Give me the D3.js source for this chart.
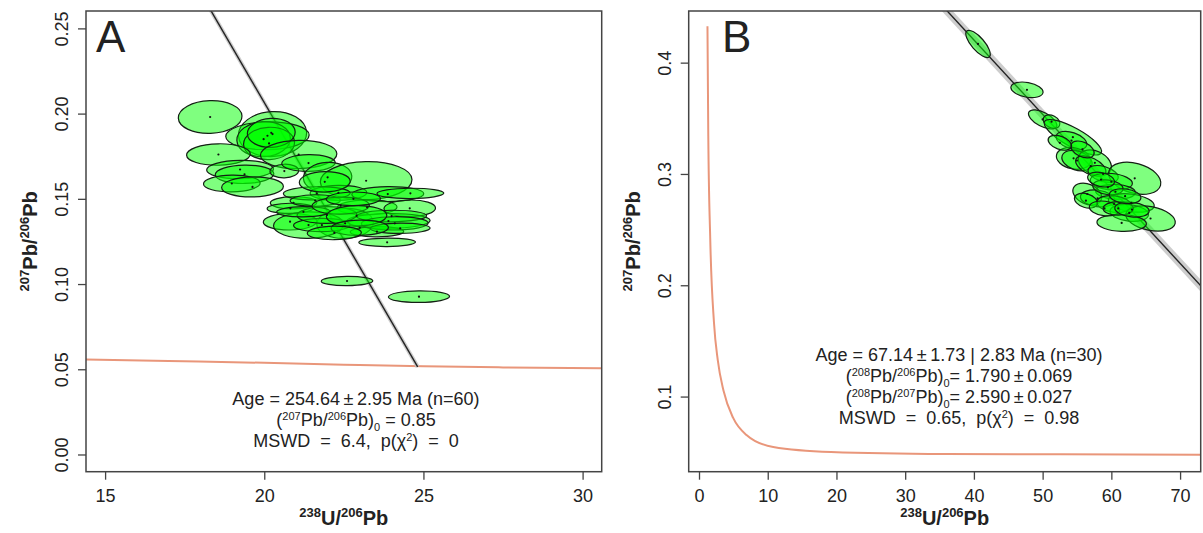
<!DOCTYPE html>
<html>
<head>
<meta charset="utf-8">
<script src="https://cdn.jsdelivr.net/npm/d3@7"></script>
<style>
  body { margin: 0; background: #fff; }
  svg text { font-family: "Liberation Sans", Arial, Helvetica, sans-serif; fill: #222; white-space: pre; }
</style>
</head>
<body>
<div id="chart"></div>
<script>
// ---------- panel A data ----------
const aTicksX = [15, 20, 25, 30];
const aTicksY = [0.00, 0.05, 0.10, 0.15, 0.20, 0.25];
// ellipse centres and half-widths (data units)
const aX  = [18.30, 20.26, 20.10, 19.98, 20.15, 20.22, 21.08, 18.56, 19.24, 19.38, 18.98, 19.63, 20.63, 21.39, 21.99,
             23.20, 22.33, 23.88, 24.59, 20.92, 20.82, 23.23, 24.57, 22.54, 23.90, 23.54, 23.86, 22.60, 24.86, 20.81,
             21.39, 21.81, 21.97, 21.23, 21.65, 21.60, 24.00, 24.10, 24.27, 22.40, 22.90, 23.00, 22.20, 22.80, 21.90];
const aY  = [0.1980, 0.1880, 0.1870, 0.1850, 0.1825, 0.1887, 0.1760, 0.1760, 0.1672, 0.1644, 0.1590, 0.1570, 0.1663, 0.1710, 0.1626,
             0.1606, 0.1535, 0.1528, 0.1532, 0.1477, 0.1444, 0.1450, 0.1444, 0.1356, 0.1370, 0.1307, 0.1245, 0.1018, 0.0926, 0.1366,
             0.1346, 0.1346, 0.1405, 0.1424, 0.1532, 0.1490, 0.1399, 0.1356, 0.1327, 0.1460, 0.1400, 0.1330, 0.1300, 0.1500, 0.1600];
const aEx = [1.00, 1.07, 1.31, 0.84, 0.80, 0.75, 1.20, 1.00, 1.05, 0.92, 0.89, 0.97, 0.45, 0.84, 0.76,
             1.44, 0.89, 1.13, 1.05, 0.73, 0.73, 0.94, 0.81, 0.89, 1.31, 0.84, 0.89, 0.81, 0.96, 0.84,
             1.10, 0.89, 0.94, 0.84, 1.05, 0.79, 1.10, 1.05, 0.94, 0.90, 0.95, 0.90, 0.85, 0.85, 0.80];
const aEy = [0.0096, 0.0132, 0.0082, 0.0103, 0.0095, 0.0085, 0.0083, 0.0063, 0.0054, 0.0054, 0.0049, 0.0059, 0.0040, 0.0049, 0.0088,
             0.0112, 0.0044, 0.0044, 0.0030, 0.0036, 0.0030, 0.0044, 0.0049, 0.0088, 0.0044, 0.0030, 0.0025, 0.0027, 0.0034, 0.0049,
             0.0078, 0.0039, 0.0049, 0.0030, 0.0039, 0.0034, 0.0034, 0.0039, 0.0030, 0.0050, 0.0060, 0.0045, 0.0040, 0.0040, 0.0060];
const aRho = aX.map(() => 0.05);
// concordia and isochron
const aConcX = [14.4, 17.0, 20.0, 22.5, 25.0, 27.5, 30.6];
const aConcY = [0.0557, 0.0548, 0.0538, 0.0527, 0.0517, 0.0511, 0.0506];
const aLineX = [0, 24.82];
const aLineY = [0.85, 0.0514];

// ---------- panel B data ----------
const bTicksX = [0, 10, 20, 30, 40, 50, 60, 70];
const bTicksY = [0.1, 0.2, 0.3, 0.4];
const bX  = [40.6, 47.72, 50.0, 51.3, 54.4, 54.2, 54.5, 55.0, 57.6, 57.0, 58.8, 63.4, 60.0, 60.6, 56.5,
             58.0, 62.9, 60.4, 62.6, 65.7, 61.5, 56.3, 59.0, 61.0, 63.0, 59.5, 62.0, 55.8, 52.5, 58.5];
const bY  = [0.4168, 0.3756, 0.3490, 0.3470, 0.3330, 0.3300, 0.3140, 0.3120, 0.3100, 0.3070, 0.3000, 0.2961, 0.2930, 0.2840, 0.2820,
             0.2780, 0.2740, 0.2730, 0.2650, 0.2600, 0.2560, 0.2760, 0.2690, 0.2690, 0.2680, 0.2880, 0.2800, 0.3220, 0.3280, 0.2950];
const bEx = [1.78, 2.34, 2.06, 1.22, 4.18, 2.23, 2.50, 2.20, 2.40, 2.20, 2.20, 3.80, 3.06, 2.90, 2.10,
             2.50, 3.34, 2.50, 2.80, 3.60, 3.60, 1.67, 2.20, 2.20, 2.50, 2.20, 2.30, 1.70, 1.70, 1.95];
const bEy = [0.0122, 0.0070, 0.0086, 0.0061, 0.0159, 0.0083, 0.0098, 0.0092, 0.0116, 0.0092, 0.0076, 0.0144, 0.0076, 0.0067, 0.0098,
             0.0076, 0.0083, 0.0076, 0.0076, 0.0113, 0.0076, 0.0067, 0.0067, 0.0061, 0.0067, 0.0067, 0.0067, 0.0076, 0.0067, 0.0067];
const bRho = [-0.75, -0.3, -0.6, -0.3, -0.8, -0.4, -0.2, -0.3, -0.3, -0.5, -0.4, -0.3, -0.2, -0.1, -0.3,
              -0.2, -0.3, -0.2, -0.2, -0.3, -0.1, -0.3, -0.2, 0, -0.2, -0.2, -0.2, -0.4, -0.4, -0.3];
const bConcX = [1.23, 1.35, 1.63, 2.18, 2.73, 3.57, 4.97, 6.91, 10.8, 19.2, 35.9, 52.6, 73.0];
const bConcY = [0.4327, 0.334, 0.2427, 0.1663, 0.1327, 0.1052, 0.0808, 0.0655, 0.0547, 0.0502, 0.0484, 0.0481, 0.0478];
const bLineX = [30, 80];
const bLineY = [0.4873, 0.1528];

// annotation text: [text, kind] kind: n normal, u superscript, d subscript
const aNotes = [
  [["Age = 254.64\u2009\u00b1\u20092.95 Ma (n=60)", "n"]],
  [["(", "n"], ["207", "u"], ["Pb/", "n"], ["206", "u"], ["Pb)", "n"], ["0", "d"], [" = 0.85", "n"]],
  [["MSWD  =  6.4,  p(\u03c7", "n"], ["2", "u"], [")  =  0", "n"]]
];
const bNotes = [
  [["Age = 67.14\u2009\u00b1\u20091.73 | 2.83 Ma (n=30)", "n"]],
  [["(", "n"], ["208", "u"], ["Pb/", "n"], ["206", "u"], ["Pb)", "n"], ["0", "d"], ["= 1.790\u2009\u00b1\u20090.069", "n"]],
  [["(", "n"], ["208", "u"], ["Pb/", "n"], ["207", "u"], ["Pb)", "n"], ["0", "d"], ["= 2.590\u2009\u00b1\u20090.027", "n"]],
  [["MSWD  =  0.65,  p(\u03c7", "n"], ["2", "u"], [")  =  0.98", "n"]]
];

const W = 1203, H = 533;
const svg = d3.select("#chart").append("svg").attr("width", W).attr("height", H);

function richText(sel, parts, supSize, dyUp, dyDown) {
  let off = 0;
  parts.forEach(p => {
    let target = p[1] === "u" ? -dyUp : p[1] === "d" ? dyDown : 0;
    let t = sel.append("tspan").text(p[0]).attr("dy", target - off);
    if (p[1] !== "n") t.style("font-size", supSize + "px");
    off = target;
  });
}

function ellipseGeom(ex, ey, rho, kx, ky) {
  const sx = ex * kx, sy = ey * ky;
  const r = -rho; // screen y is flipped
  const a = sx * sx, c = sy * sy, b = r * sx * sy;
  const m = (a + c) / 2, d = Math.sqrt(((a - c) / 2) ** 2 + b * b);
  return {
    rx: Math.sqrt(m + d),
    ry: Math.sqrt(Math.max(m - d, 0)),
    ang: 0.5 * Math.atan2(2 * b, a - c) * 180 / Math.PI
  };
}

function drawPanel(cfg) {
  let g = svg.append("g");
  let x = d3.scaleLinear().domain(cfg.xDom).range([cfg.left, cfg.right]);
  let y = d3.scaleLinear().domain(cfg.yDom).range([cfg.bottom, cfg.top]);
  let kx = Math.abs(x(1) - x(0)), ky = Math.abs(y(1) - y(0));

  svg.append("clipPath").attr("id", "clip" + cfg.id)
    .append("rect")
    .attr("x", cfg.left).attr("y", cfg.top)
    .attr("width", cfg.right - cfg.left).attr("height", cfg.bottom - cfg.top);

  let plot = g.append("g").attr("clip-path", "url(#clip" + cfg.id + ")");

  // concordia
  plot.append("path")
    .datum(d3.zip(cfg.concX, cfg.concY))
    .attr("d", d3.line().x(d => x(d[0])).y(d => y(d[1])).curve(d3.curveMonotoneX))
    .attr("fill", "none")
    .attr("stroke", "#e9967a")
    .attr("stroke-width", 2);

  // isochron with envelope
  let iso = d3.zip(cfg.lineX, cfg.lineY);
  let lineGen = d3.line().x(d => x(d[0])).y(d => y(d[1]));
  plot.append("path").datum(iso).attr("d", lineGen)
    .attr("stroke", "#c4c4c4").attr("stroke-width", cfg.band).attr("opacity", 0.85).attr("fill", "none");
  plot.append("path").datum(iso).attr("d", lineGen)
    .attr("stroke", "#222").attr("stroke-width", 1.4).attr("fill", "none");

  // error ellipses
  let ell = d3.range(cfg.ex.length).map(i => {
    let e = ellipseGeom(cfg.ex[i], cfg.ey[i], cfg.rho[i], kx, ky);
    return {cx: x(cfg.px[i]), cy: y(cfg.py[i]), rx: e.rx, ry: e.ry, ang: e.ang};
  });
  plot.selectAll(".ell").data(ell).enter()
    .append("ellipse")
    .attr("class", "ell")
    .attr("transform", d => "translate(" + d.cx + "," + d.cy + ") rotate(" + d.ang + ")")
    .attr("rx", d => d.rx)
    .attr("ry", d => d.ry)
    .attr("fill", "rgba(0,255,0,0.5)")
    .attr("stroke", "#142014")
    .attr("stroke-width", 1.2);
  plot.selectAll(".dot").data(ell).enter()
    .append("circle")
    .attr("cx", d => d.cx).attr("cy", d => d.cy).attr("r", 1.1)
    .attr("fill", "#111");

  // box
  g.append("rect")
    .attr("x", cfg.left).attr("y", cfg.top)
    .attr("width", cfg.right - cfg.left).attr("height", cfg.bottom - cfg.top)
    .attr("fill", "none").attr("stroke", "#444").attr("stroke-width", 1.5);

  // x axis
  let xa = g.append("g").attr("transform", "translate(0," + cfg.bottom + ")")
    .call(d3.axisBottom(x).tickValues(cfg.xTicks).tickSize(8).tickPadding(10).tickSizeOuter(0));
  xa.select(".domain").remove();
  xa.selectAll("line").attr("stroke", "#444").attr("stroke-width", 1.3);
  xa.selectAll("text").style("font-size", "18px").attr("fill", "#222")
    .style("font-family", "'Liberation Sans', Arial, sans-serif");

  // y axis, labels rotated as in R
  let ya = g.append("g").attr("transform", "translate(" + cfg.left + ",0)")
    .call(d3.axisLeft(y).tickValues(cfg.yTicks).tickSize(8).tickFormat(d3.format(cfg.yFmt)).tickSizeOuter(0));
  ya.select(".domain").remove();
  ya.selectAll("line").attr("stroke", "#444").attr("stroke-width", 1.3);
  ya.selectAll("text")
    .attr("x", null).attr("dy", null)
    .attr("transform", "translate(-18,0) rotate(-90)")
    .attr("text-anchor", "middle")
    .style("font-size", "18px").attr("fill", "#222")
    .style("font-family", "'Liberation Sans', Arial, sans-serif");

  // axis titles
  let xt = g.append("text")
    .attr("x", (cfg.left + cfg.right) / 2).attr("y", 525)
    .attr("text-anchor", "middle").style("font-weight", "bold").style("font-size", "20px");
  richText(xt, [["238", "u"], ["U/", "n"], ["206", "u"], ["Pb", "n"]], 13, 8, 0);
  let yt = g.append("text")
    .attr("transform", "translate(" + (cfg.left - 49) + "," + ((cfg.top + cfg.bottom) / 2) + ") rotate(-90)")
    .attr("text-anchor", "middle").style("font-weight", "bold").style("font-size", "20px");
  richText(yt, [["207", "u"], ["Pb/", "n"], ["206", "u"], ["Pb", "n"]], 13, 8, 0);

  // panel letter
  g.append("text").attr("x", cfg.letterX).attr("y", 52)
    .style("font-size", "44px").attr("fill", "#111").text(cfg.letter);

  // annotation
  cfg.notes.forEach((ln, i) => {
    let t = g.append("text")
      .attr("x", cfg.noteX).attr("y", cfg.noteY + i * cfg.noteStep)
      .attr("text-anchor", "middle").style("font-size", "18px");
    richText(t, ln, 11, 6, 5);
  });
}

drawPanel({
  id: "A", left: 86, right: 601.7, top: 11, bottom: 471.7,
  xDom: [14.4, 30.6], yDom: [-0.0101, 0.2602],
  xTicks: aTicksX, yTicks: aTicksY, yFmt: ".2f",
  px: aX, py: aY, ex: aEx, ey: aEy, rho: aRho,
  concX: aConcX, concY: aConcY, lineX: aLineX, lineY: aLineY, band: 4,
  letter: "A", letterX: 96,
  notes: aNotes, noteX: 356, noteY: 405, noteStep: 21
});

drawPanel({
  id: "B", left: 688.7, right: 1200.7, top: 11, bottom: 471.7,
  xDom: [-1.5, 73.0], yDom: [0.0325, 0.4464],
  xTicks: bTicksX, yTicks: bTicksY, yFmt: ".1f",
  px: bX, py: bY, ex: bEx, ey: bEy, rho: bRho,
  concX: bConcX, concY: bConcY, lineX: bLineX, lineY: bLineY, band: 8,
  letter: "B", letterX: 722,
  notes: bNotes, noteX: 959, noteY: 361, noteStep: 21
});
</script>
</body>
</html>
